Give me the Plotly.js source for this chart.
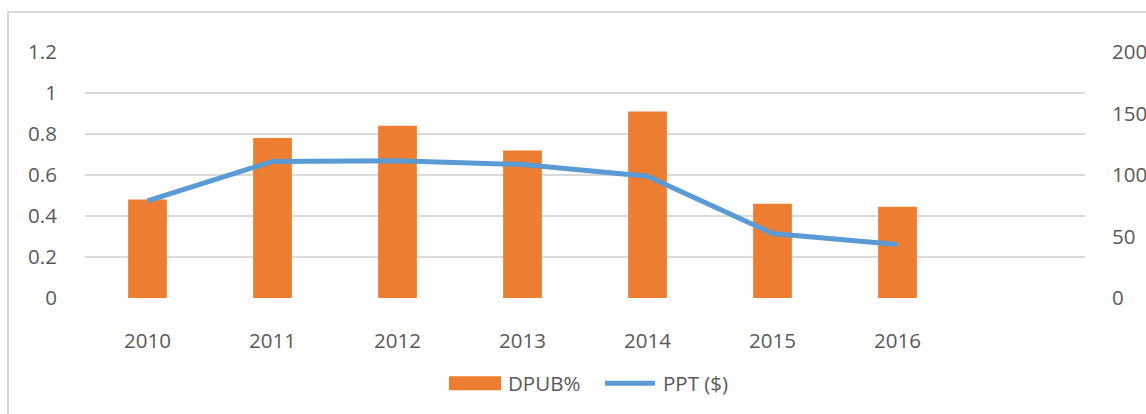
<!DOCTYPE html>
<html>
<head>
<meta charset="utf-8">
<script src="https://cdn.plot.ly/plotly-3.0.1.min.js"></script>
<style>
  html, body { margin:0; padding:0; background:#fff; overflow:hidden; }
  #chart { width:1146px; height:414px; }
  #frame { position:absolute; left:7px; top:11px; width:1150px; height:420px; border:2px solid #d9d9d9; pointer-events:none; box-sizing:border-box; }
</style>
</head>
<body>
<div id="chart"></div>
<div id="frame"></div>
<script>
const years = ["2010", "2011", "2012", "2013", "2014", "2015", "2016"];
const dpub = [0.48, 0.78, 0.84, 0.72, 0.91, 0.46, 0.445];
const ppt = [79, 111, 111.5, 108.5, 99, 52.5, 43.5];
const leftTicks = [0, 0.2, 0.4, 0.6, 0.8, 1, 1.2];
const leftTickText = ["0", "0.2", "0.4", "0.6", "0.8", "1", "1.2"];
const rightTicks = [0, 50, 100, 150, 200];
const seriesNames = ["DPUB%", "PPT ($)"];
const seriesColors = ["#ED7D31", "#5B9BD5"];

const fontFam = "Open Sans, Liberation Sans, sans-serif";
const txtColor = "#595959";
const fs = 20.5;

const traces = [
  {
    type: "bar", name: seriesNames[0], x: years, y: dpub,
    marker: { color: seriesColors[0] }, width: 0.31, hoverinfo: "none"
  },
  {
    type: "scatter", mode: "lines", name: seriesNames[1], x: years, y: ppt, yaxis: "y2",
    line: { color: seriesColors[1], width: 5 }, hoverinfo: "none"
  }
];

// manual legend (wide swatches like the original)
const plotL = 85, plotW = 1000, plotB = 298.5, plotH = 246.5;
const px = v => (v - plotL) / plotW;
const py = v => (plotB - v) / plotH;
const legY = 384;

const shapes = [
  { type: "rect", xref: "paper", yref: "paper", x0: px(449), x1: px(501), y0: py(391), y1: py(377),
    fillcolor: seriesColors[0], line: { width: 0 } },
  { type: "line", xref: "paper", yref: "paper", x0: px(605), x1: px(655), y0: py(legY), y1: py(legY),
    line: { color: seriesColors[1], width: 5 } }
];
const annotations = [
  { xref: "paper", yref: "paper", x: px(506), y: py(legY), xanchor: "left", yanchor: "middle",
    text: seriesNames[0], showarrow: false, font: { family: fontFam, size: fs, color: txtColor } },
  { xref: "paper", yref: "paper", x: px(661), y: py(legY), xanchor: "left", yanchor: "middle",
    text: seriesNames[1], showarrow: false, font: { family: fontFam, size: fs, color: txtColor } }
];

const layout = {
  width: 1146, height: 414,
  margin: { l: 85, r: 61, t: 52, b: 115.5 },
  paper_bgcolor: "#fff", plot_bgcolor: "#fff",
  font: { family: fontFam, size: fs, color: txtColor },
  showlegend: false,
  shapes: shapes,
  annotations: annotations,
  xaxis: {
    type: "category", range: [-0.5, 7.5], showgrid: false, zeroline: false,
    showline: false, ticks: "outside", ticklen: 24, tickcolor: "rgba(0,0,0,0)",
    tickfont: { family: fontFam, size: fs, color: txtColor }, fixedrange: true
  },
  yaxis: {
    range: [0, 1.2], tickvals: leftTicks, ticktext: leftTickText,
    showgrid: true, gridcolor: "#d9d9d9", gridwidth: 1.5, zeroline: false, showline: false,
    ticks: "outside", ticklen: 23, tickcolor: "rgba(0,0,0,0)",
    tickfont: { family: fontFam, size: fs, color: txtColor }, fixedrange: true
  },
  yaxis2: {
    range: [0, 200], tickvals: rightTicks, overlaying: "y", side: "right",
    showgrid: false, zeroline: false, showline: false,
    ticks: "outside", ticklen: 22, tickcolor: "rgba(0,0,0,0)",
    tickfont: { family: fontFam, size: fs, color: txtColor }, fixedrange: true
  }
};

Plotly.newPlot("chart", traces, layout, { displayModeBar: false, staticPlot: true });
</script>
</body>
</html>
